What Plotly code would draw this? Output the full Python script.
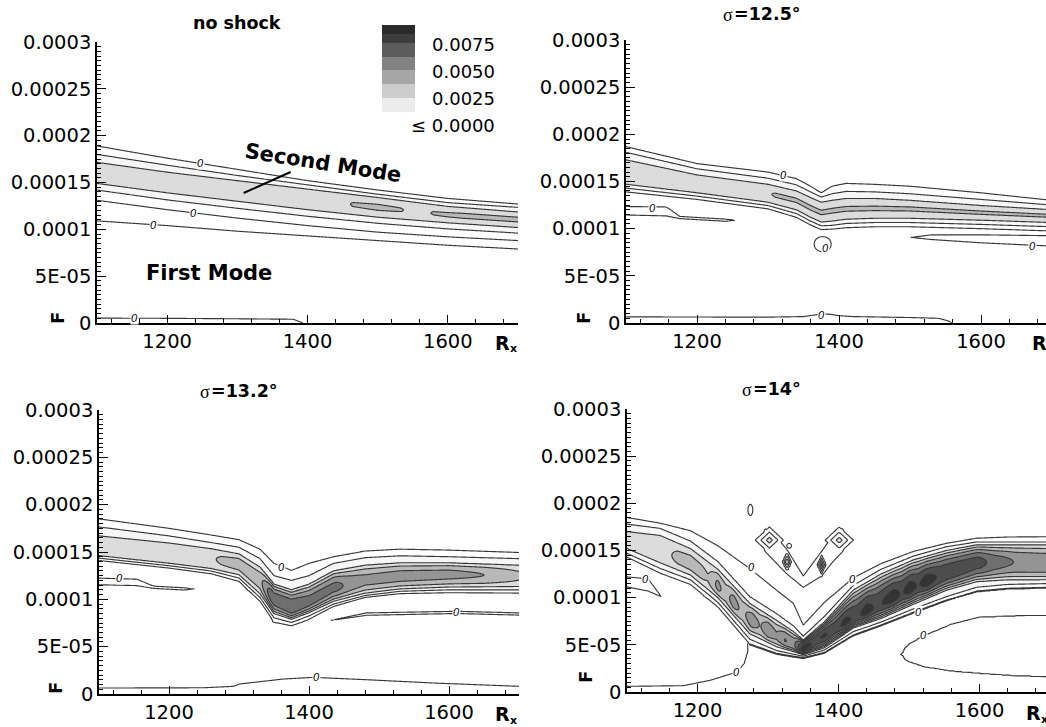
import numpy as np
import plotly.graph_objects as go

W, H = 1046, 727

# contour levels of the growth-rate field and the gray used between them
LEVEL_STEP = 0.00125
LEVEL_END = 0.01
BAND_GRAYS = ["#ffffff", "#ffffff", "#ececec", "#cccccc", "#a6a6a6",
              "#828282", "#5c5c5c", "#3d3d3d", "#2b2b2b"]

# axis ticks
X_TICKS = [1200, 1400, 1600]
Y_TICKS = [0, 5e-5, 1e-4, 1.5e-4, 2e-4, 2.5e-4, 3e-4]
Y_TICK_TEXT = ["0", "5E-05", "0.0001", "0.00015", "0.0002", "0.00025", "0.0003"]
LEGEND_LABELS = ["0.0075", "0.0050", "0.0025", "\u2264 0.0000"]

# ---------------- panel 1: no shock ----------------
P1_RX = [1100, 1200, 1300, 1400, 1500, 1600, 1700]
P1_FU0 = [1.89e-4, 1.76e-4, 1.64e-4, 1.52e-4, 1.42e-4, 1.33e-4, 1.27e-4]
P1_FU1 = [1.80e-4, 1.685e-4, 1.575e-4, 1.475e-4, 1.375e-4, 1.285e-4, 1.235e-4]
P1_FU2 = [1.715e-4, 1.61e-4, 1.52e-4, 1.43e-4, 1.34e-4, 1.245e-4, 1.185e-4]
P1_FC = [1.60e-4, 1.50e-4, 1.41e-4, 1.32e-4, 1.235e-4, 1.155e-4, 1.105e-4]
P1_FL2 = [1.49e-4, 1.39e-4, 1.30e-4, 1.21e-4, 1.13e-4, 1.07e-4, 1.02e-4]
P1_FL1 = [1.42e-4, 1.315e-4, 1.225e-4, 1.14e-4, 1.065e-4, 1.005e-4, 0.96e-4]
P1_FL0 = [1.31e-4, 1.21e-4, 1.12e-4, 1.04e-4, 0.97e-4, 0.92e-4, 0.88e-4]
P1_PK_RX = [1100, 1300, 1450, 1465, 1500, 1533, 1555, 1580, 1620, 1700]
P1_PK = [0.0034, 0.0035, 0.0036, 0.0038, 0.00388, 0.0038, 0.0035, 0.0038, 0.00388, 0.00388]
P1_M1_RX = [1100, 1200, 1300, 1380, 1400, 1420, 1500, 1600, 1700]
P1_M1_TOP = [1.09e-4, 1.04e-4, 0.98e-4, 0.94e-4, 0.93e-4, 0.92e-4, 0.88e-4, 0.83e-4, 0.79e-4]
P1_M1_BOT = [5.2e-6, 5.0e-6, 4.5e-6, 4.0e-6, -2e-6, -1.5e-5, -1.5e-5, -1.5e-5, -1.5e-5]
P1_ZERO_LABELS = [(1247, 1.705e-4), (1237, 1.17e-4), (1181, 1.05e-4), (1154, 5.0e-6)]

# ---------------- panel 2: sigma = 12.5 deg ----------------
P2_RX = [1100, 1200, 1300, 1340, 1360, 1375, 1390, 1410, 1450, 1500, 1600, 1700]
P2_FU0 = [1.87e-4, 1.69e-4, 1.60e-4, 1.53e-4, 1.45e-4, 1.38e-4, 1.45e-4, 1.48e-4, 1.47e-4, 1.45e-4, 1.38e-4, 1.30e-4]
P2_FU1 = [1.81e-4, 1.635e-4, 1.535e-4, 1.465e-4, 1.39e-4, 1.335e-4, 1.37e-4, 1.395e-4, 1.39e-4, 1.37e-4, 1.31e-4, 1.25e-4]
P2_FU2 = [1.73e-4, 1.57e-4, 1.47e-4, 1.40e-4, 1.33e-4, 1.28e-4, 1.30e-4, 1.32e-4, 1.32e-4, 1.30e-4, 1.245e-4, 1.20e-4]
P2_FC = [1.60e-4, 1.475e-4, 1.375e-4, 1.30e-4, 1.22e-4, 1.17e-4, 1.19e-4, 1.21e-4, 1.215e-4, 1.21e-4, 1.17e-4, 1.135e-4]
P2_FL2 = [1.47e-4, 1.38e-4, 1.28e-4, 1.20e-4, 1.12e-4, 1.07e-4, 1.08e-4, 1.10e-4, 1.11e-4, 1.11e-4, 1.09e-4, 1.065e-4]
P2_FL1 = [1.43e-4, 1.345e-4, 1.245e-4, 1.16e-4, 1.08e-4, 1.03e-4, 1.035e-4, 1.055e-4, 1.065e-4, 1.065e-4, 1.045e-4, 1.02e-4]
P2_FL0 = [1.39e-4, 1.31e-4, 1.21e-4, 1.12e-4, 1.04e-4, 0.99e-4, 0.995e-4, 1.01e-4, 1.02e-4, 1.02e-4, 1.00e-4, 0.975e-4]
P2_PK_RX = [1100, 1290, 1310, 1700]
P2_PK = [0.0034, 0.0035, 0.00382, 0.00382]
P2_TL_RX = [1100, 1157, 1176, 1240, 1256, 1262]
P2_TL_TOP = [1.235e-4, 1.23e-4, 1.13e-4, 1.102e-4, 1.09e-4, 1.085e-4]
P2_TL_BOT = [1.145e-4, 1.135e-4, 1.106e-4, 1.078e-4, 1.09e-4, 1.095e-4]
P2_TR_RX = [1490, 1501, 1530, 1600, 1700]
P2_TR_TOP = [0.895e-4, 0.907e-4, 0.935e-4, 0.935e-4, 0.925e-4]
P2_TR_BOT = [0.915e-4, 0.907e-4, 0.885e-4, 0.85e-4, 0.815e-4]
P2_LOW_RX = [1100, 1300, 1350, 1370, 1385, 1400, 1420, 1500, 1540, 1555, 1570, 1700]
P2_LOW_TOP = [6.5e-6, 6.2e-6, 6.8e-6, 9.0e-6, 9.5e-6, 7.8e-6, 6.8e-6, 5.8e-6, 5.0e-6, 2.0e-6, -6e-6, -1e-5]
P2_LOOP = (1377, 8.35e-5, 12, 8e-6)
P2_ZERO_LABELS = [(1322, 1.569e-4), (1138, 1.216e-4), (1381, 0.80e-4), (1673, 0.82e-4), (1375, 8.5e-6)]

# ---------------- panel 3: sigma = 13.2 deg ----------------
P3_RX = [1100, 1200, 1260, 1300, 1330, 1350, 1375, 1400, 1435, 1480, 1530, 1600, 1700]
P3_FU0 = [1.85e-4, 1.75e-4, 1.68e-4, 1.63e-4, 1.53e-4, 1.38e-4, 1.305e-4, 1.38e-4, 1.45e-4, 1.51e-4, 1.53e-4, 1.52e-4, 1.495e-4]
P3_FU1 = [1.765e-4, 1.67e-4, 1.60e-4, 1.55e-4, 1.43e-4, 1.25e-4, 1.20e-4, 1.25e-4, 1.38e-4, 1.44e-4, 1.46e-4, 1.45e-4, 1.43e-4]
P3_FU2 = [1.67e-4, 1.595e-4, 1.535e-4, 1.48e-4, 1.34e-4, 1.16e-4, 1.10e-4, 1.16e-4, 1.30e-4, 1.36e-4, 1.385e-4, 1.385e-4, 1.36e-4]
P3_FC = [1.565e-4, 1.49e-4, 1.435e-4, 1.37e-4, 1.20e-4, 1.00e-4, 0.91e-4, 0.97e-4, 1.12e-4, 1.20e-4, 1.245e-4, 1.265e-4, 1.25e-4]
P3_FL2 = [1.46e-4, 1.38e-4, 1.325e-4, 1.26e-4, 1.06e-4, 0.85e-4, 0.79e-4, 0.86e-4, 0.98e-4, 1.065e-4, 1.11e-4, 1.13e-4, 1.135e-4]
P3_FL1 = [1.435e-4, 1.355e-4, 1.30e-4, 1.225e-4, 1.02e-4, 0.805e-4, 0.755e-4, 0.825e-4, 0.95e-4, 1.04e-4, 1.085e-4, 1.10e-4, 1.10e-4]
P3_FL0 = [1.41e-4, 1.33e-4, 1.27e-4, 1.19e-4, 0.98e-4, 0.76e-4, 0.72e-4, 0.79e-4, 0.925e-4, 1.02e-4, 1.06e-4, 1.07e-4, 1.066e-4]
P3_PK_RX = [1100, 1200, 1260, 1275, 1300, 1330, 1345, 1375, 1400, 1440, 1460, 1480, 1530, 1600, 1650, 1700]
P3_PK = [0.0034, 0.0034, 0.0035, 0.0040, 0.0043, 0.0045, 0.0070, 0.0074, 0.0068, 0.0066, 0.0058, 0.0054, 0.0055, 0.0054, 0.0050, 0.0040]
P3_TL_RX = [1100, 1154, 1178, 1222, 1236, 1242]
P3_TL_TOP = [1.224e-4, 1.213e-4, 1.14e-4, 1.122e-4, 1.11e-4, 1.10e-4]
P3_TL_BOT = [1.154e-4, 1.145e-4, 1.115e-4, 1.098e-4, 1.11e-4, 1.12e-4]
P3_TR_RX = [1415, 1423, 1482, 1611, 1700]
P3_TR_TOP = [0.755e-4, 0.767e-4, 0.857e-4, 0.874e-4, 0.857e-4]
P3_TR_BOT = [0.775e-4, 0.767e-4, 0.831e-4, 0.85e-4, 0.833e-4]
P3_LOW_RX = [1100, 1250, 1292, 1301, 1363, 1406, 1482, 1578, 1700]
P3_LOW_TOP = [6.3e-6, 6.6e-6, 8.1e-6, 1.06e-5, 1.58e-5, 1.76e-5, 1.51e-5, 1.16e-5, 8.1e-6]
P3_ZERO_LABELS = [(1360, 1.34e-4), (1129, 1.225e-4), (1611, 0.865e-4), (1410, 1.78e-5)]

# ---------------- panel 4: sigma = 14 deg ----------------
P4_RX = [1100, 1147, 1190, 1229, 1274, 1312, 1336, 1350, 1380, 1421, 1460, 1506, 1553, 1596, 1640, 1700]
P4_FU0 = [1.85e-4, 1.79e-4, 1.71e-4, 1.55e-4, 1.31e-4, 1.08e-4, 0.94e-4, 0.71e-4, 0.95e-4, 1.21e-4, 1.36e-4, 1.49e-4, 1.576e-4, 1.63e-4, 1.643e-4, 1.646e-4]
P4_FU1 = [1.78e-4, 1.735e-4, 1.60e-4, 1.38e-4, 1.01e-4, 0.83e-4, 0.70e-4, 0.59e-4, 0.80e-4, 1.13e-4, 1.30e-4, 1.44e-4, 1.54e-4, 1.59e-4, 1.59e-4, 1.59e-4]
P4_FU2 = [1.70e-4, 1.66e-4, 1.52e-4, 1.30e-4, 0.94e-4, 0.76e-4, 0.64e-4, 0.55e-4, 0.74e-4, 1.08e-4, 1.25e-4, 1.40e-4, 1.50e-4, 1.56e-4, 1.56e-4, 1.56e-4]
P4_FC = [1.61e-4, 1.50e-4, 1.36e-4, 1.12e-4, 0.775e-4, 0.59e-4, 0.50e-4, 0.46e-4, 0.60e-4, 0.78e-4, 0.93e-4, 1.11e-4, 1.26e-4, 1.37e-4, 1.38e-4, 1.36e-4]
P4_FL2 = [1.52e-4, 1.37e-4, 1.24e-4, 1.00e-4, 0.62e-4, 0.48e-4, 0.43e-4, 0.395e-4, 0.47e-4, 0.68e-4, 0.78e-4, 0.93e-4, 1.08e-4, 1.17e-4, 1.19e-4, 1.19e-4]
P4_FL1 = [1.47e-4, 1.31e-4, 1.19e-4, 0.95e-4, 0.56e-4, 0.44e-4, 0.40e-4, 0.38e-4, 0.445e-4, 0.64e-4, 0.74e-4, 0.88e-4, 1.01e-4, 1.11e-4, 1.14e-4, 1.15e-4]
P4_FL0 = [1.43e-4, 1.26e-4, 1.14e-4, 0.90e-4, 0.51e-4, 0.41e-4, 0.38e-4, 0.365e-4, 0.42e-4, 0.605e-4, 0.71e-4, 0.845e-4, 0.975e-4, 1.07e-4, 1.10e-4, 1.11e-4]
P4_PK_RX = [1100, 1160, 1172, 1190, 1205, 1215, 1229, 1240, 1251, 1264, 1277, 1289, 1300, 1312, 1324, 1337,
            1350, 1365, 1380, 1395, 1410, 1425, 1440, 1455, 1477, 1490, 1501, 1513, 1525, 1545, 1575, 1600,
            1620, 1650, 1700]
P4_PK = [0.0034, 0.0036, 0.0041, 0.0043, 0.0042, 0.0038, 0.0054, 0.0044, 0.0056, 0.0046, 0.0058, 0.0049,
         0.0060, 0.0052, 0.0063, 0.0060, 0.0095, 0.0085, 0.0089, 0.0083, 0.0091, 0.0084, 0.0092, 0.0085,
         0.0093, 0.0086, 0.0093, 0.0086, 0.0093, 0.0085, 0.0083, 0.0080, 0.0070, 0.0062, 0.0060]
P4_TL_RX = [1100, 1130, 1149, 1155]
P4_TL_TOP = [1.22e-4, 1.20e-4, 1.008e-4, 0.995e-4]
P4_TL_BOT = [1.114e-4, 1.07e-4, 1.008e-4, 1.02e-4]
P4_LOW_RX = [1100, 1180, 1218, 1256, 1266, 1270, 1272, 1285, 1700]
P4_LOW_TOP = [6.0e-6, 6.7e-6, 1.24e-5, 2.12e-5, 3.0e-5, 4.0e-5, 5.3e-5, 3e-4, 3e-4]
P4_BOWL_RX = [1480, 1489, 1494, 1500, 1521, 1560, 1600, 1650, 1700]
P4_BOWL_TOP = [3.9e-5, 4.05e-5, 4.7e-5, 5.13e-5, 6.0e-5, 7.2e-5, 7.96e-5, 8.1e-5, 8.14e-5]
P4_BOWL_BOT = [4.1e-5, 3.95e-5, 3.4e-5, 3.18e-5, 2.65e-5, 2.2e-5, 1.95e-5, 1.7e-5, 1.59e-5]
P4_ARC_RX = [1288, 1296, 1310, 1327, 1350, 1376, 1392, 1406, 1414]
P4_ARC_TOP = [1.59e-4, 1.73e-4, 1.66e-4, 1.51e-4, 1.23e-4, 1.49e-4, 1.66e-4, 1.73e-4, 1.59e-4]
P4_ARC_BOT = [1.65e-4, 1.49e-4, 1.38e-4, 1.25e-4, 1.11e-4, 1.23e-4, 1.38e-4, 1.49e-4, 1.65e-4]
# islands: (Rx, F, half-width Rx, half-height F, peak, diamond-shaped)
P4_ISLANDS = [
    (1302, 1.61e-4, 20, 1.4e-5, 0.0032, True),
    (1401, 1.61e-4, 20, 1.4e-5, 0.0032, True),
    (1327, 1.38e-4, 8, 1.3e-5, 0.0055, True),
    (1376, 1.35e-4, 8, 1.3e-5, 0.0055, True),
    (1275, 1.93e-4, 3.5, 6e-6, 0.0008, False),
    (1330, 1.55e-4, 3.5, 2.5e-6, 0.0008, False),
]
P4_ZERO_LABELS = [(1277, 1.32e-4), (1126, 1.20e-4), (1420, 1.20e-4), (1514, 0.849e-4),
                  (1521, 0.601e-4), (1256, 2.12e-5)]

# ---------------- field construction ----------------
RX = np.arange(1100, 1701, 2.0)
FQ = np.arange(0, 3.0001e-4, 0.75e-6)
F2 = FQ[:, None]


def at(rx, vals):
    return np.interp(RX, rx, vals)[None, :]


def band(rx, fu0, fu1, fu2, fc, fl2, fl1, fl0, pk_rx, pk):
    u0, u1, u2, c, l2, l1, l0 = (at(rx, v) for v in (fu0, fu1, fu2, fc, fl2, fl1, fl0))
    p = at(pk_rx, pk)
    s_up = (F2 - c) / (u2 - c)
    s_lo = (c - F2) / (c - l2)
    two = 2 * LEVEL_STEP
    return np.select(
        [F2 >= u1, F2 >= u2, F2 >= c, F2 > l2, F2 > l1],
        [LEVEL_STEP * (u0 - F2) / (u0 - u1),
         LEVEL_STEP * (1 + (u1 - F2) / (u1 - u2)),
         two + (p - two) * (1 - s_up ** 2),
         two + (p - two) * (1 - s_lo ** 2),
         LEVEL_STEP * (1 + (F2 - l1) / (l2 - l1))],
        default=LEVEL_STEP * (F2 - l0) / (l1 - l0))


def lens(rx, top, bot, amp=9e-4, href=1e-5):
    t, b = at(rx, top), at(rx, bot)
    c, h = (t + b) / 2, (t - b) / 2
    return np.minimum(amp * (h * np.abs(h) - (F2 - c) ** 2) / href ** 2, 1e-3)


def island(cx, cy, rx, ry, amp, diamond):
    dx = np.abs(RX[None, :] - cx) / rx
    dy = np.abs(F2 - cy) / ry
    r = dx + dy if diamond else dx ** 2 + dy ** 2
    return amp * (1 - r)


FLOOR = -2e-5

Z1 = np.maximum(
    band(P1_RX, P1_FU0, P1_FU1, P1_FU2, P1_FC, P1_FL2, P1_FL1, P1_FL0, P1_PK_RX, P1_PK),
    lens(P1_M1_RX, P1_M1_TOP, P1_M1_BOT))

Z2 = np.maximum.reduce([
    band(P2_RX, P2_FU0, P2_FU1, P2_FU2, P2_FC, P2_FL2, P2_FL1, P2_FL0, P2_PK_RX, P2_PK),
    lens(P2_TL_RX, P2_TL_TOP, P2_TL_BOT),
    lens(P2_TR_RX, P2_TR_TOP, P2_TR_BOT),
    lens(P2_LOW_RX, P2_LOW_TOP, [FLOOR] * len(P2_LOW_RX)),
    island(*P2_LOOP, 0.0008, False)])

Z3 = np.maximum.reduce([
    band(P3_RX, P3_FU0, P3_FU1, P3_FU2, P3_FC, P3_FL2, P3_FL1, P3_FL0, P3_PK_RX, P3_PK),
    lens(P3_TL_RX, P3_TL_TOP, P3_TL_BOT),
    lens(P3_TR_RX, P3_TR_TOP, P3_TR_BOT),
    lens(P3_LOW_RX, P3_LOW_TOP, [FLOOR] * len(P3_LOW_RX))])

low4_top = np.minimum(np.interp(RX, P4_LOW_RX, P4_LOW_TOP), np.interp(RX, P4_RX, P4_FL0) - 1e-6)
Z4 = np.maximum.reduce(
    [band(P4_RX, P4_FU0, P4_FU1, P4_FU2, P4_FC, P4_FL2, P4_FL1, P4_FL0, P4_PK_RX, P4_PK),
     lens(P4_TL_RX, P4_TL_TOP, P4_TL_BOT),
     lens(RX, low4_top, np.full_like(RX, FLOOR)),
     lens(P4_ARC_RX, P4_ARC_TOP, P4_ARC_BOT)]
    + [island(*isl) for isl in P4_ISLANDS])
bowl = lens(P4_BOWL_RX, P4_BOWL_TOP, P4_BOWL_BOT)
Z4 = np.where(bowl > 0, np.minimum(Z4, -bowl), Z4)

# ---------------- figure ----------------
n_levels = int(round(LEVEL_END / LEVEL_STEP)) + 1
colorscale = [[0.0, BAND_GRAYS[0]]]
for k, g in enumerate(BAND_GRAYS):
    colorscale.append([(k + 0.5) / n_levels, g])
colorscale.append([1.0, BAND_GRAYS[-1]])

FONT = "DejaVu Sans"
fig = go.Figure()

panels = [("x", "y", Z1), ("x2", "y2", Z2), ("x3", "y3", Z3), ("x4", "y4", Z4)]
for xa, ya, Z in panels:
    fig.add_trace(go.Contour(
        x=RX, y=FQ, z=np.round(Z, 7), xaxis=xa, yaxis=ya,
        autocontour=False,
        contours=dict(start=0, end=LEVEL_END, size=LEVEL_STEP, coloring="fill"),
        colorscale=colorscale, showscale=False,
        line=dict(color="#383838", width=1.15, smoothing=0.6),
        hoverinfo="skip"))


def px(x):
    return x / W


def py(y):
    return 1 - y / H


# (x-domain px, y-domain px (top, bottom), x range)
geo = {
    "": ((97, 518), (42, 323), [1100, 1700]),
    "2": ((626, 1046), (40, 323), [1100, 1100 + 420 / 0.71]),
    "3": ((99, 519), (410, 694), [1100, 1700]),
    "4": ((627, 1046), (409, 692), [1100, 1100 + 419 / 0.705]),
}
for key, ((x0, x1), (yt, yb), xr) in geo.items():
    fig.layout["xaxis" + key] = dict(
        domain=[px(x0), min(px(x1), 1.0)], range=xr, anchor="y" + key, automargin=False,
        tickmode="array", tickvals=X_TICKS, ticks="inside", ticklen=8, tickwidth=1.3,
        tickcolor="black", showline=True, linewidth=1.6, linecolor="black",
        showgrid=False, zeroline=False,
        tickfont=dict(family=FONT, size=19.5, color="black"),
        minor=dict(ticks="inside", ticklen=4, tickwidth=1, tickcolor="black",
                   tickmode="linear", tick0=1200, dtick=40, showgrid=False))
    fig.layout["yaxis" + key] = dict(
        domain=[py(yb), py(yt)], range=[0, 3e-4], anchor="x" + key, automargin=False,
        tickmode="array", tickvals=Y_TICKS, ticktext=Y_TICK_TEXT, ticks="inside",
        ticklen=9, tickwidth=1.3, tickcolor="black", showline=True, linewidth=1.6,
        linecolor="black", showgrid=False, zeroline=False,
        tickfont=dict(family=FONT, size=19.5, color="black"),
        minor=dict(ticks="inside", ticklen=4, tickwidth=1, tickcolor="black",
                   tickmode="linear", tick0=0, dtick=5e-6, showgrid=False))

annotations = []


def text(x, y, s, size, xanchor="center", family=FONT, **kw):
    annotations.append(dict(x=px(x), y=py(y), xref="paper", yref="paper", text=s,
                            showarrow=False, xanchor=xanchor, yanchor="middle",
                            font=dict(family=family, size=size, color="black"), **kw))


# panel titles: serif sigma followed by the bold angle
text(237, 23, "<b>no shock</b>", 17.5)
for sx, sy, ang in [(733, 14, "=12.5\u00b0"), (210, 391, "=13.2\u00b0"), (752, 389, "=14\u00b0")]:
    text(sx - 1, sy, "<b>" + ang + "</b>", 17.5, xanchor="left")
    text(sx + 2, sy + 1, "\u03c3", 18, xanchor="right", family="Liberation Serif")

for fx, fy in [(57, 318), (583, 318), (55, 688), (585, 677)]:
    text(fx, fy, "<b>F</b>", 18, textangle=-90)
for rx_, ry_ in [(502, 343), (1039, 343), (502, 714), (1033, 713)]:
    text(rx_, ry_, "<b>R</b>", 19)
    text(rx_ + 11, ry_ + 6, "<b>x</b>", 11)

text(323, 163, "<b>Second Mode</b>", 21, textangle=9)
text(209, 273, "<b>First Mode</b>", 21)

# legend labels
for lab, ly in zip(LEGEND_LABELS, [45, 72, 98, 125]):
    text(497, ly, lab, 18, xanchor="right")

# "0" contour labels
for key, labels in [("", P1_ZERO_LABELS), ("2", P2_ZERO_LABELS),
                    ("3", P3_ZERO_LABELS), ("4", P4_ZERO_LABELS)]:
    for lx, ly in labels:
        annotations.append(dict(x=lx, y=ly, xref="x" + key, yref="y" + key, text="0",
                                showarrow=False, bgcolor="white", borderpad=0,
                                xanchor="center", yanchor="middle",
                                font=dict(family="Liberation Sans", size=11, color="#000000",
                                          style="italic")))

shapes = []
# legend swatches
edges = [25, 34, 43, 57, 70, 84, 98, 112]
for i in range(len(edges) - 1):
    shapes.append(dict(type="rect", xref="paper", yref="paper",
                       x0=px(382), x1=px(415), y0=py(edges[i + 1]), y1=py(edges[i]),
                       fillcolor=BAND_GRAYS[8 - i], line=dict(width=0)))
# leader from "Second Mode" to the band
shapes.append(dict(type="line", xref="x", yref="y", x0=1309, y0=1.388e-4, x1=1376, y1=1.612e-4,
                   line=dict(color="black", width=2)))

fig.update_layout(template="none", width=W, height=H, margin=dict(l=0, r=0, t=0, b=0),
                  paper_bgcolor="white", plot_bgcolor="white", showlegend=False,
                  annotations=annotations, shapes=shapes)
fig.write_html("out.html")
